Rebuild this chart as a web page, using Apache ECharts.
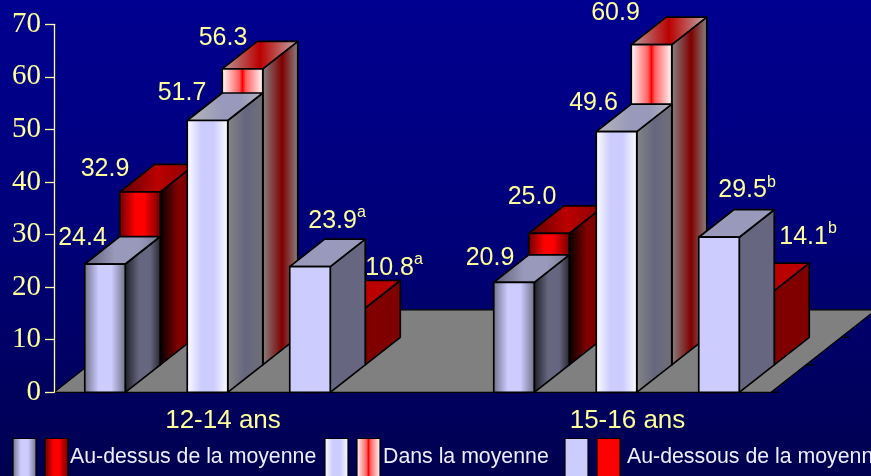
<!DOCTYPE html>
<html>
<head>
<meta charset="utf-8">
<style>html,body{margin:0;padding:0;background:#000060;overflow:hidden}#c{width:871px;height:476px}</style>
<script src="https://cdn.jsdelivr.net/npm/echarts@6/dist/echarts.min.js"></script>
</head>
<body>
<div id="c"></div>
<script>
const categories = ['12-14 ans', '15-16 ans'];
const aboveBlue = [24.4, 20.9];
const aboveRed = [32.9, 25.0];
const withinBlue = [51.7, 49.6];
const withinRed = [56.3, 60.9];
const belowBlue = [23.9, 29.5];
const belowRed = [10.8, 14.1];
const legendLabels = ['Au-dessus de la moyenne', 'Dans la moyenne', 'Au-dessous de la moyenne'];
const marksBelowBlue = ['a', 'b'];
const marksBelowRed = ['a', 'b'];

const YEL = '#FFFF99', BOX = 35, BOY = 27.5, STEP = 102.5;
const grad = (stops) => ({type:'linear',x:0,y:0,x2:1,y2:0,colorStops:stops.map((c,i)=>({offset:Array.isArray(c)?c[0]:i/(stops.length-1),color:Array.isArray(c)?c[1]:c}))});
const faces = {
  aboveB: {front:grad(['#6e6e86',[0.35,'#CCCCFF'],[0.65,'#CCCCFF'],[1,'#6e6e86']]), top:grad(['#5c5c72',[0.4,'#9999BB'],[0.7,'#9999BB'],[1,'#7a7a94']]), side:grad(['#1c1c24',[0.4,'#666680'],[0.7,'#666680'],[1,'#24242c']])},
  aboveR: {front:grad(['#6a0000',[0.4,'#FF0000'],[0.6,'#FF0000'],[1,'#6a0000']]), top:grad(['#5c0000',[0.5,'#BB0000'],[1,'#880000']]), side:grad(['#000000',[0.5,'#800000'],[1,'#800000']])},
  withinB:{front:grad(['#FFFFFF',[0.35,'#CCCCFF'],[0.65,'#CCCCFF'],[1,'#FFFFFF']]), top:grad(['#B8B8B8',[0.45,'#9999BB'],[0.7,'#9999BB'],[1,'#B8B8C0']]), side:grad(['#868686',[0.5,'#666680'],[1,'#707078']])},
  withinR:{front:grad(['#FFFFFF',[0.42,'#FF6060'],[0.5,'#FF0000'],[0.58,'#FF6060'],[1,'#FFFFFF']]), top:grad(['#B8A0A0',[0.5,'#BB0000'],[1,'#C0B0B0']]), side:grad(['#868686',[0.55,'#800000'],[1,'#868686']])},
  belowB: {front:'#CCCCFF', top:'#9999BB', side:'#666680'},
  belowR: {front:'#FF0000', top:'#BB0000', side:'#800000'}
};

function boxSeries(name, values, slot, row, face) {
  return {
    name, type:'custom', coordinateSystem:'cartesian2d', z: row === 1 ? 3 : 4 + slot, silent:true, clip:false,
    data: values.map((v,i)=>[i,v]),
    encode:{x:0,y:1},
    renderItem(params, api) {
      const top = api.coord([api.value(0), api.value(1)]);
      const base = api.coord([api.value(0), 0]);
      const w = 40.5;
      const cx = top[0] + (slot - 1) * STEP + row * BOX;
      const x0 = cx - w/2, x1 = cx + w/2;
      const yT = top[1] - row * BOY, yB = base[1] - row * BOY;
      const st = {stroke:'#000', lineWidth:1.7, lineJoin:'round'};
      return {type:'group', children:[
        {type:'polygon', shape:{points:[[x1,yT],[x1+BOX,yT-BOY],[x1+BOX,yB-BOY],[x1,yB]]}, style:{fill:face.side,...st}},
        {type:'polygon', shape:{points:[[x0,yT],[x0+BOX,yT-BOY],[x1+BOX,yT-BOY],[x1,yT]]}, style:{fill:face.top,...st}},
        {type:'rect', shape:{x:x0,y:yT,width:w,height:yB-yT}, style:{fill:face.front,...st}}
      ]};
    }
  };
}

// label placement relative to the front-top centre of each box: slot, row, nudge per category
const labelDefs = [
  {values:aboveBlue,  slot:0,row:0,off:[[-22.5,-26],[-24,-24]]},
  {values:aboveRed,   slot:0,row:1,off:[[-35,-23],[-17,-36]]},
  {values:withinBlue, slot:1,row:0,off:[[-25.5,-27],[-23,-28]]},
  {values:withinRed,  slot:1,row:1,off:[[-19.5,-31],[-36,-32]]},
  {values:belowBlue,  slot:2,row:0,off:[[27,-46],[28,-47]],marks:marksBelowBlue},
  {values:belowRed,   slot:2,row:1,off:[[49,-40],[54,-54]],marks:marksBelowRed}
];
const labelRows = [];
labelDefs.forEach((d,k)=>d.values.forEach((v,i)=>labelRows.push([i,v,k])));

const option = {
  animation:false,
  backgroundColor:{type:'linear',x:0,y:0,x2:0,y2:1,colorStops:[{offset:0,color:'#000090'},{offset:0.5,color:'#000078'},{offset:1,color:'#000050'}]},
  grid:{left:3,right:50,top:24.3,bottom:83.7},
  xAxis:{type:'category',data:categories.map((c,i)=>({value:c,textStyle:{padding:i?[0,0,0,22]:[0,0,0,31]}})),axisLine:{show:false},axisTick:{show:false},
    axisLabel:{color:YEL,fontFamily:'Liberation Sans',fontSize:26,margin:16},z:20},
  yAxis:{type:'value',min:0,max:70,interval:10,offset:-51,splitLine:{show:false},
    axisLine:{show:true,lineStyle:{color:YEL,width:1.3}},axisTick:{show:true,length:9,lineStyle:{color:YEL,width:1.3}},
    axisLabel:{color:YEL,fontFamily:'Liberation Serif',fontSize:29,margin:13},z:20},
  series:[
    {type:'custom',name:'floor',z:1,silent:true,clip:false,coordinateSystem:'cartesian2d',data:[[0,0]],encode:{x:0,y:1},
      renderItem(params,api){
        const y = api.coord([0,0])[1], xL = 54, xR = 771;
        const kids = [{type:'polygon',shape:{points:[[xL,y],[xR,y],[xR+3*BOX,y-3*BOY],[xL+3*BOX,y-3*BOY]]},style:{fill:'#808080',stroke:'#000',lineWidth:1.3}}];
        for(let i=0;i<3;i++) kids.push({type:'line',shape:{x1:xR+i*BOX,y1:y-i*BOY,x2:xR+i*BOX+8,y2:y-i*BOY},style:{stroke:'#000',lineWidth:1.3}});
        return {type:'group',children:kids};
      }},
    boxSeries('Au-dessus de la moyenne (bleu)',aboveBlue,0,0,faces.aboveB),
    boxSeries('Au-dessus de la moyenne (rouge)',aboveRed,0,1,faces.aboveR),
    boxSeries('Dans la moyenne (bleu)',withinBlue,1,0,faces.withinB),
    boxSeries('Dans la moyenne (rouge)',withinRed,1,1,faces.withinR),
    boxSeries('Au-dessous de la moyenne (bleu)',belowBlue,2,0,faces.belowB),
    boxSeries('Au-dessous de la moyenne (rouge)',belowRed,2,1,faces.belowR),
    {type:'custom',name:'labels',z:15,silent:true,clip:false,coordinateSystem:'cartesian2d',data:labelRows,encode:{x:0,y:1},
      renderItem(params,api){
        const i = api.value(0), v = api.value(1), d = labelDefs[api.value(2)];
        const p = api.coord([i,v]);
        const cx = p[0] + (d.slot-1)*STEP + d.row*BOX + d.off[i][0];
        const cy = p[1] - d.row*BOY + d.off[i][1];
        const t = v.toFixed(1), m = d.marks ? d.marks[i] : '';
        return {type:'text',style:{x:cx,y:cy,text:m ? t+'{s|'+m+'}' : t,fill:YEL,align:'center',verticalAlign:'middle',
          font:'25px "Liberation Sans"',rich:{s:{fontSize:16,fontFamily:'Liberation Sans',fill:YEL,verticalAlign:'top',padding:[0,0,16,0]}}}};
      }}
  ],
  graphic:{elements:[]}
};

// legend drawn as swatch pairs + real text
const lgFaces = [[faces.aboveB,faces.aboveR,13,70],[faces.withinB,faces.withinR,325,383],[faces.belowB,faces.belowR,565,627]];
lgFaces.forEach((l,i)=>{
  [0,1].forEach(j=>option.graphic.elements.push({type:'rect',silent:true,z:30,shape:{x:l[2]+j*32,y:438.5,width:23,height:42},style:{fill:l[j].front,stroke:'#000',lineWidth:1.2}}));
  option.graphic.elements.push({type:'text',silent:true,z:30,style:{x:l[3],y:457,text:legendLabels[i],fill:'#EEEEFF',font:'21.3px "Liberation Sans"',verticalAlign:'middle'}});
});

echarts.init(document.getElementById('c'),null,{renderer:'canvas'}).setOption(option);
</script>
</body>
</html>
